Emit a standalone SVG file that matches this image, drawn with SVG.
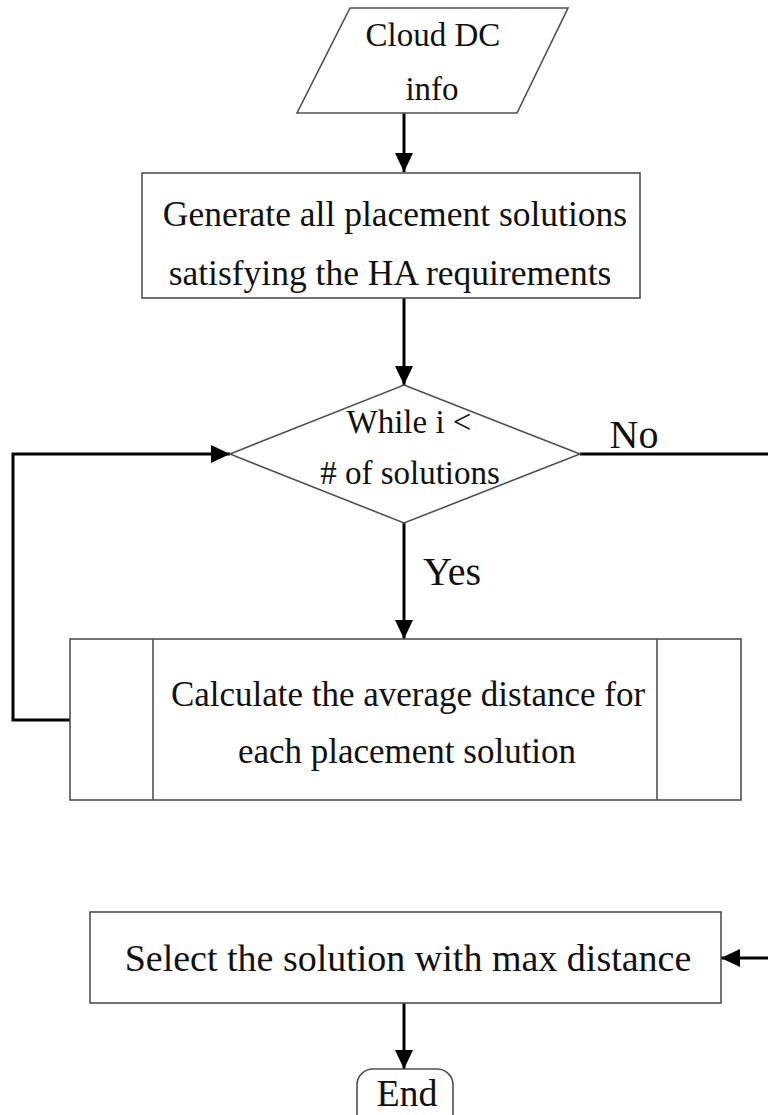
<svg xmlns="http://www.w3.org/2000/svg" width="768" height="1115" viewBox="0 0 768 1115">
  <style>
    .shape { fill: #ffffff; stroke: #505050; stroke-width: 1.6; }
    .wire { fill: none; stroke: #000000; stroke-width: 3; }
    .lbl { font-family: "Liberation Serif", "Times New Roman", serif; fill: #111111; text-anchor: middle; }
  </style>
  <defs>
    <marker id="head" markerUnits="userSpaceOnUse" markerWidth="20" markerHeight="18" refX="19" refY="9" orient="auto">
      <path d="M0,0 L19,9 L0,18 Z" fill="#000000"/>
    </marker>
  </defs>
  <rect width="768" height="1115" fill="#ffffff"/>

  <!-- connectors -->
  <g id="connectors">
    <path class="wire" d="M404,113 V172" marker-end="url(#head)"/>
    <path class="wire" d="M404,298 V385" marker-end="url(#head)"/>
    <path class="wire" d="M404,523 V639" marker-end="url(#head)"/>
    <path class="wire" d="M70,720 H13 V454 H230" marker-end="url(#head)"/>
    <path class="wire" d="M580,454 H770"/>
    <path class="wire" d="M770,958 H721" marker-end="url(#head)"/>
    <path class="wire" d="M404,1003 V1069" marker-end="url(#head)"/>
    <text class="lbl" x="634" y="448" font-size="40">No</text>
    <text class="lbl" x="452" y="585" font-size="40">Yes</text>
  </g>

  <!-- input: cloud data centre info -->
  <g id="cloud-dc-info">
    <polygon class="shape" points="350,8 568,8 517,113 297,113"/>
    <text class="lbl" x="433" y="46" font-size="33">Cloud DC</text>
    <text class="lbl" x="432" y="100" font-size="33">info</text>
  </g>

  <!-- generate placements -->
  <g id="generate">
    <rect class="shape" x="142" y="173" width="498" height="125"/>
    <text class="lbl" x="395" y="226" font-size="35.5">Generate all placement solutions</text>
    <text class="lbl" x="390" y="285" font-size="35.5">satisfying the HA requirements</text>
  </g>

  <!-- loop condition -->
  <g id="while-loop">
    <polygon class="shape" points="404,385 580,454 404,523 230,454"/>
    <text class="lbl" x="409" y="433" font-size="33">While i &lt;</text>
    <text class="lbl" x="410" y="484" font-size="33"># of solutions</text>
  </g>

  <!-- predefined process: distance calculation -->
  <g id="calculate">
    <rect class="shape" x="70" y="639" width="671" height="161"/>
    <line class="shape" x1="153" y1="639" x2="153" y2="800"/>
    <line class="shape" x1="657" y1="639" x2="657" y2="800"/>
    <text class="lbl" x="408" y="706" font-size="35">Calculate the average distance for</text>
    <text class="lbl" x="407" y="763" font-size="35">each placement solution</text>
  </g>

  <!-- select best -->
  <g id="select">
    <rect class="shape" x="90" y="912" width="631" height="91"/>
    <text class="lbl" x="408" y="971" font-size="38">Select the solution with max distance</text>
  </g>

  <!-- terminator -->
  <g id="end">
    <rect class="shape" x="357" y="1069" width="96" height="70" rx="16" ry="16"/>
    <text class="lbl" x="407" y="1106" font-size="38">End</text>
  </g>
</svg>
